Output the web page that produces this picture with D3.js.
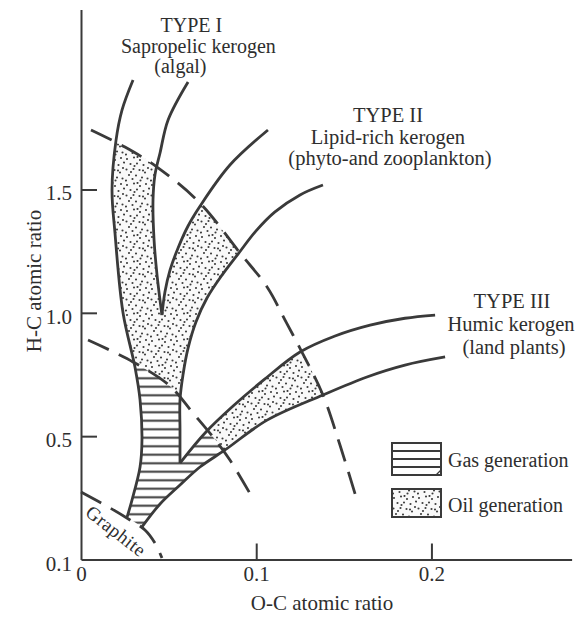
<!DOCTYPE html>
<html>
<head>
<meta charset="utf-8">
<script src="https://cdn.jsdelivr.net/npm/d3@7"></script>
<style>
  html, body { margin: 0; padding: 0; background: #fff; }
  svg text { font-family: "Liberation Serif", "Times New Roman", serif; fill: #2e2e2e; }
</style>
</head>
<body>
<svg id="chart" width="575" height="618"></svg>
<script>
// Evolution paths of kerogen, as [O/C, H/C] atomic ratio pairs
const typeILeft = [[0.0297,1.944],[0.0234,1.822],[0.0200,1.700],[0.0177,1.498],[0.0194,1.323],[0.0240,0.999],[0.0308,0.780],[0.0337,0.647],[0.0348,0.484],[0.0337,0.375],[0.0291,0.241],[0.0263,0.172]];
const typeIRight = [[0.0611,1.936],[0.0497,1.782],[0.0451,1.648],[0.0422,1.559],[0.0411,1.457],[0.0417,1.295],[0.0434,1.153],[0.0462,0.991]];
const typeIIUpper = [[0.0462,0.991],[0.0479,1.084],[0.0508,1.173],[0.0554,1.263],[0.0611,1.352],[0.0679,1.432],[0.0850,1.599],[0.1067,1.741]];
const typeIILower = [[0.1381,1.518],[0.1250,1.478],[0.1107,1.409],[0.0999,1.332],[0.0896,1.238],[0.0805,1.153],[0.0719,1.060],[0.0656,0.963],[0.0611,0.857],[0.0582,0.748],[0.0565,0.647],[0.0565,0.525],[0.0565,0.391]];
const typeIIIUpper = [[0.0565,0.391],[0.0708,0.513],[0.0868,0.622],[0.1050,0.732],[0.1250,0.841],[0.1450,0.906],[0.1650,0.950],[0.1849,0.978],[0.2021,0.991]];
const typeIIILower = [[0.0348,0.132],[0.0451,0.225],[0.0565,0.302],[0.0679,0.375],[0.0822,0.444],[0.1062,0.565],[0.1381,0.667],[0.1632,0.740],[0.1849,0.788],[0.2078,0.821]];

// Maturation limits (dashed)
const oilZoneTop = [[0.0057,1.741],[0.0251,1.672],[0.0434,1.591],[0.0679,1.445],[0.0908,1.242],[0.1062,1.105],[0.1170,0.963],[0.1261,0.841],[0.1381,0.667],[0.1478,0.464],[0.1575,0.241]];
const gasZoneTop = [[0.0040,0.890],[0.0297,0.801],[0.0508,0.703],[0.0639,0.594],[0.0753,0.497],[0.0850,0.403],[0.0976,0.253]];
const graphiteLimit = [[0.0,0.274],[0.0166,0.209],[0.0280,0.160],[0.0365,0.120],[0.0422,0.067],[0.0462,0.006]];

// Axes
const xTickValues = [0, 0.1, 0.2];
const xTickLabels = ["0", "0.1", "0.2"];
const yTickValues = [0, 0.5, 1.0, 1.5];
const yTickLabels = ["0.1", "0.5", "1.0", "1.5"];
const xTitle = "O-C atomic ratio";
const yTitle = "H-C atomic ratio";

// Type labels (anchor in data units, per-line horizontal nudges in px)
const typeLabels = [
  { lines: ["TYPE I", "Sapropelic kerogen", "(algal)"], at: [0.0630, 2.138], dx: [0, 7, -11], lead: 20.5, size: 20 },
  { lines: ["TYPE II", "Lipid-rich kerogen", "(phyto-and zooplankton)"], at: [0.1752, 1.773], dx: [0, 0, 2], lead: 21.5, size: 20.5 },
  { lines: ["TYPE III", "Humic kerogen", "(land plants)"], at: [0.2460, 1.019], dx: [0, -1, 2], lead: 23, size: 20.5 }
];
const legendItems = ["Gas generation", "Oil generation"];

const INK = "#3a3a3a";
const svg = d3.select("#chart");

const x = d3.scaleLinear().domain([0, 0.28]).range([81, 571.6]);
const y = d3.scaleLinear().domain([0, 2.23]).range([559.5, 9.4]);

const line = d3.line().x(d => x(d[0])).y(d => y(d[1])).curve(d3.curveCatmullRom.alpha(0.5));

// ---------- patterns ----------
const defs = svg.append("defs");
const hatch = defs.append("pattern").attr("id", "hatch")
  .attr("patternUnits", "userSpaceOnUse").attr("width", 10).attr("height", 8.5);
hatch.append("rect").attr("width", 10).attr("height", 8.5).attr("fill", "#fff");
hatch.append("line").attr("x1", 0).attr("x2", 10).attr("y1", 4.25).attr("y2", 4.25)
  .attr("stroke", INK).attr("stroke-width", 2);

const dotOffsets = [[2,3],[9,1.5],[15,4],[21,2],[5.5,8],[12,7.5],[18.5,9],[23,12],[1.5,13.5],[8.5,13],[14.5,14],[20,16.5],[4,19],[11,19.5],[17,21.5],[22.5,22.5],[7.5,23],[1,24.5],[12.5,1],[18,14.5],[6,16],[24,6.5],[9.5,10],[15.5,24.5]];
const stip = defs.append("pattern").attr("id", "stipple")
  .attr("patternUnits", "userSpaceOnUse").attr("width", 25).attr("height", 26);
stip.append("rect").attr("width", 25).attr("height", 26).attr("fill", "#f9f9f9");
stip.selectAll("circle").data(dotOffsets).join("circle")
  .attr("cx", d => d[0]).attr("cy", d => d[1]).attr("r", 1.05).attr("fill", "#3c3c3c");

// ---------- geometry helpers ----------
const gFill = svg.append("g");
const gLines = svg.append("g");

function drawCurve(data, dashed) {
  const p = gLines.append("path").attr("d", line(data)).attr("fill", "none")
    .attr("stroke", INK).attr("stroke-width", 2.8).attr("stroke-linecap", "butt");
  if (dashed) p.attr("stroke-dasharray", "23,11");
  const node = p.node(), L = node.getTotalLength(), n = 500, pts = [];
  for (let i = 0; i <= n; i++) { const q = node.getPointAtLength(L * i / n); pts.push([q.x, q.y]); }
  return pts;
}
function cross(P, Q) {
  for (let i = 0; i < P.length - 1; i++) {
    const [x1, y1] = P[i], [x2, y2] = P[i + 1];
    for (let j = 0; j < Q.length - 1; j++) {
      const [x3, y3] = Q[j], [x4, y4] = Q[j + 1];
      const d = (x2 - x1) * (y4 - y3) - (y2 - y1) * (x4 - x3);
      if (Math.abs(d) < 1e-12) continue;
      const t = ((x3 - x1) * (y4 - y3) - (y3 - y1) * (x4 - x3)) / d;
      const u = ((x3 - x1) * (y2 - y1) - (y3 - y1) * (x2 - x1)) / d;
      if (t >= 0 && t <= 1 && u >= 0 && u <= 1) return [i + t, j + u];
    }
  }
  return null;
}
function at(P, s) {
  const i = Math.max(0, Math.min(Math.floor(s), P.length - 2)), t = s - i;
  return [P[i][0] + (P[i + 1][0] - P[i][0]) * t, P[i][1] + (P[i + 1][1] - P[i][1]) * t];
}
function seg(P, s0, s1) {
  const out = [at(P, s0)];
  if (s1 > s0) { for (let k = Math.floor(s0) + 1; k <= Math.ceil(s1) - 1; k++) out.push(P[k]); }
  else { for (let k = Math.ceil(s0) - 1; k >= Math.floor(s1) + 1; k--) out.push(P[k]); }
  out.push(at(P, s1));
  return out;
}
const end = P => P.length - 1;

// ---------- curves ----------
const A = drawCurve(typeILeft);
const B = drawCurve(typeIRight);
const C = drawCurve(typeIIUpper);
const D = drawCurve(typeIILower);
const E = drawCurve(typeIIIUpper);
const F = drawCurve(typeIIILower);
const O = drawCurve(oilZoneTop, true);
const G = drawCurve(gasZoneTop, true);
drawCurve(graphiteLimit, true);

// crossings
const [aO, oA] = cross(A, O), [aG, gA] = cross(A, G);
const [bO, oB] = cross(B, O), [cO, oC] = cross(C, O);
const [dO, oD] = cross(D, O), [dG, gD] = cross(D, G);
const [eO, oE] = cross(E, O), [eG, gE] = cross(E, G);
const [fO, oF] = cross(F, O), [fG, gF] = cross(F, G);

const poly = pts => "M" + pts.map(p => p[0].toFixed(2) + "," + p[1].toFixed(2)).join("L") + "Z";

// oil window of types I and II
const oil12 = [].concat(
  seg(A, aO, aG), seg(G, gA, gD), seg(D, dG, dO), seg(O, oD, oC),
  seg(C, cO, 0), seg(B, end(B), bO), seg(O, oB, oA));
// oil window of type III
const oil3 = [].concat(seg(E, eG, eO), seg(O, oE, oF), seg(F, fO, fG), seg(G, gF, gE));
// gas window
const gas = [].concat(
  seg(A, aG, end(A)), seg(F, 0, fG), seg(G, gF, gE), seg(E, eG, 0),
  seg(D, end(D), dG), seg(G, gD, gA));

gFill.append("path").attr("d", poly(oil12)).attr("fill", "url(#stipple)");
gFill.append("path").attr("d", poly(oil3)).attr("fill", "url(#stipple)");
gFill.append("path").attr("d", poly(gas)).attr("fill", "url(#hatch)");

// ---------- axes ----------
const gx = svg.append("g").attr("transform", `translate(0,${y(0)})`)
  .call(d3.axisBottom(x).tickValues(xTickValues).tickFormat((d, i) => xTickLabels[i])
    .tickSize(-16).tickSizeOuter(0).tickPadding(7));
const gy = svg.append("g").attr("transform", `translate(${x(0)},0)`)
  .call(d3.axisLeft(y).tickValues(yTickValues).tickFormat((d, i) => yTickLabels[i])
    .tickSize(-16).tickSizeOuter(0).tickPadding(9));
[gx, gy].forEach(g => {
  g.select(".domain").attr("stroke", INK).attr("stroke-width", 2);
  g.selectAll(".tick line").attr("stroke", INK).attr("stroke-width", 2);
  g.selectAll(".tick text").attr("font-size", 21).attr("fill", "#2e2e2e")
    .attr("font-family", '"Liberation Serif", serif');
});
gx.selectAll(".tick").filter(d => d === 0).select("line").remove();
gy.selectAll(".tick").filter(d => d === 0).select("line").remove();
gy.selectAll(".tick text").attr("dy", "0.5em");

svg.append("text").attr("x", 322).attr("y", 610).attr("text-anchor", "middle")
  .attr("font-size", 21).text(xTitle);
svg.append("text").attr("transform", "translate(41,281) rotate(-90)")
  .attr("text-anchor", "middle").attr("font-size", 21).text(yTitle);

// ---------- type labels ----------
typeLabels.forEach(t => {
  const cx = x(t.at[0]), cy = y(t.at[1]);
  t.lines.forEach((s, i) => {
    svg.append("text").attr("x", cx + t.dx[i]).attr("y", cy + i * t.lead)
      .attr("text-anchor", "middle").attr("font-size", t.size).text(s);
  });
});

svg.append("text").attr("transform", "translate(116,531) rotate(38)")
  .attr("text-anchor", "middle").attr("dominant-baseline", "central")
  .attr("font-size", 19).attr("letter-spacing", 0.5).text("Graphite");

// ---------- legend ----------
const lg = svg.append("g").attr("transform", "translate(392,443)");
lg.append("rect").attr("width", 49).attr("height", 32).attr("fill", "#fff")
  .attr("stroke", INK).attr("stroke-width", 2);
[8, 16, 24].forEach(v => lg.append("line").attr("x1", 0).attr("x2", 49)
  .attr("y1", v).attr("y2", v).attr("stroke", INK).attr("stroke-width", 1.8));
lg.append("line").attr("x1", 44).attr("y1", 32).attr("x2", 49).attr("y2", 27)
  .attr("stroke", INK).attr("stroke-width", 1.2);
lg.append("rect").attr("y", 46).attr("width", 49).attr("height", 28)
  .attr("fill", "url(#stipple)").attr("stroke", INK).attr("stroke-width", 2);
lg.selectAll("text.item").data(legendItems).join("text").attr("class", "item")
  .attr("x", 56).attr("y", (d, i) => 24 + i * 45).attr("font-size", 20).text(d => d);
</script>
</body>
</html>
